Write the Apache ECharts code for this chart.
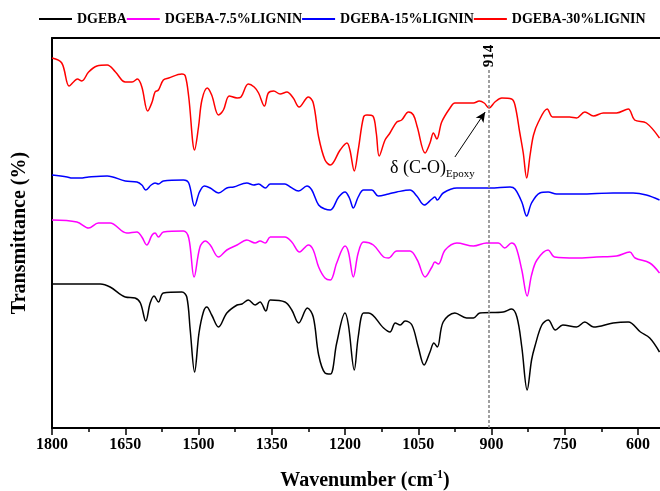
<!DOCTYPE html>
<html><head><meta charset="utf-8">
<script src="https://cdn.jsdelivr.net/npm/echarts@6/dist/echarts.min.js"></script>
<style>html,body{margin:0;padding:0;background:#fff}#c{width:660px;height:491px}</style>
</head><body><div id="c"></div>
<script>
const seriesNames = ['DGEBA', 'DGEBA-7.5%LIGNIN', 'DGEBA-15%LIGNIN', 'DGEBA-30%LIGNIN'];
const seriesColors = ['#000000', '#ff00ff', '#0000ff', '#ff0000'];

const wnBlack = [1800,1701,1681,1650,1630,1619,1608,1599,1591,1582,1572,1534,1524,1517,1508,1499,1490,1483,1473,1459,1442,1421,1411,1398,1384,1374,1362,1353,1323,1309,1295,1277,1265,1254,1241,1230,1217,1200,1193,1181,1173,1162,1152,1121,1108,1097,1087,1077,1063,1050,1038,1026,1018,1011,999,975,951,937,924,876,859,848,838,827,818,811,797,784,769,754,726,709,691,651,620,595,576,556];
const tBlack = [144,144,141,131,130,125,107,125,132,126,135,136,131,98,56,95,116,121,113,101,115,123,124,128,123,126,117,128,126,118,105,120,111,73,55,54,85,115,103,58,91,115,115,100,96,105,103,107,103,81,63,76,85,81,106,115,110,110,115,116,119,111,81,38,68,82,103,108,98,103,101,106,101,105,106,96,90,76];

const wnMagenta = [1800,1749,1725,1705,1681,1647,1626,1616,1606,1595,1589,1582,1572,1531,1520,1509,1497,1486,1476,1459,1442,1421,1401,1384,1374,1363,1353,1323,1309,1293,1275,1265,1254,1241,1230,1217,1200,1193,1183,1173,1162,1142,1121,1111,1094,1067,1052,1036,1022,1016,1009,995,971,937,910,886,873,859,850,838,827,818,807,784,771,726,685,644,617,606,576,556];
const tMagenta = [208,206,200,205,205,195,196,191,183,193,195,191,196,197,190,151,181,187,183,171,178,183,188,185,187,185,191,191,186,176,183,178,161,150,148,165,182,176,151,175,186,183,171,170,177,177,168,151,161,166,164,178,185,182,185,185,180,185,181,158,132,153,168,178,171,170,171,172,176,170,165,155];

const wnBlue = [1800,1769,1759,1742,1725,1687,1650,1626,1616,1608,1597,1589,1582,1572,1531,1520,1508,1498,1488,1476,1459,1442,1428,1401,1387,1377,1363,1353,1323,1312,1295,1278,1268,1254,1241,1230,1213,1200,1191,1183,1173,1162,1145,1132,1111,1094,1067,1053,1038,1022,1016,1011,999,971,937,903,862,852,838,828,818,801,784,767,719,651,610,583,556];
const tBlue = [253,251,250,250,251,252,247,246,243,238,243,245,244,247,248,245,222,236,242,240,235,240,241,245,243,244,240,244,244,241,237,242,238,223,219,218,231,236,230,220,231,238,238,232,234,236,238,232,223,229,231,228,235,240,240,240,241,239,226,212,225,235,236,234,234,235,235,233,228];

const wnRed = [1800,1780,1765,1756,1748,1739,1725,1708,1687,1670,1650,1636,1625,1616,1604,1595,1589,1582,1572,1561,1534,1527,1520,1508,1500,1493,1482,1473,1459,1449,1437,1421,1413,1398,1386,1377,1365,1357,1346,1333,1319,1306,1294,1275,1265,1254,1241,1230,1210,1196,1190,1181,1173,1162,1155,1143,1136,1130,1118,1108,1094,1084,1070,1060,1052,1036,1026,1019,1012,1002,985,975,958,937,925,915,905,893,879,859,852,842,835,828,821,814,804,786,775,760,740,726,709,691,671,644,620,607,583,556];
const tRed = [370,365,342,346,349,347,356,362,363,356,346,346,349,341,317,326,336,338,348,350,354,352,331,278,301,328,340,333,313,318,332,330,331,344,341,335,322,335,337,334,336,330,321,331,325,291,268,263,278,285,278,257,278,311,313,312,295,272,288,295,306,308,316,313,301,275,285,295,289,306,320,325,325,325,327,325,320,326,330,329,323,295,275,250,273,293,306,319,311,311,311,310,316,312,315,315,319,308,305,290];

const majorTicks = [1800,1650,1500,1350,1200,1050,900,750,600];
const minorTicks = [1725,1575,1425,1275,1125,975,825,675];
const peakLabel = '914';
const peakPos = 905;

const FONT = 'Liberation Serif';
const zip = (a, b) => a.map((v, i) => [v, b[i]]);
const dataSets = [zip(wnBlack, tBlack), zip(wnMagenta, tMagenta), zip(wnBlue, tBlue), zip(wnRed, tRed)];

const chart = echarts.init(document.getElementById('c'), null, {renderer: 'canvas'});
const series = dataSets.map((d, i) => ({
  name: seriesNames[i], type: 'line', data: d, symbol: 'none', smooth: 0.35,
  lineStyle: {color: seriesColors[i], width: 1.5}, itemStyle: {color: seriesColors[i]},
  animation: false
}));
series[3].markLine = {
  silent: true, animation: false,
  symbol: ['none', 'none'],
  label: {show: false},
  data: [
    [{coord: [peakPos, 0], lineStyle: {color: '#808080', type: [3, 2], width: 1.5}}, {coord: [peakPos, 358]}],
    [{coord: [975, 271], symbol: 'none', lineStyle: {color: '#000', type: 'solid', width: 1}},
     {coord: [913, 316], symbol: 'arrow', symbolSize: [7, 10]}]
  ]
};
series[3].markPoint = {
  silent: true, animation: false, symbol: 'circle', symbolSize: 0,
  data: [
    {coord: [peakPos, 372], label: {show: true, position: 'inside', rotate: 90, formatter: peakLabel,
      fontFamily: FONT, fontWeight: 'bold', fontSize: 15, color: '#000'}},
    {coord: [1108, 260], label: {show: true, position: 'right', distance: 0,
      formatter: '{a|δ (C-O)}{b|Epoxy}',
      rich: {a: {fontFamily: FONT, fontSize: 18, lineHeight: 24, color: '#000'},
             b: {fontFamily: FONT, fontSize: 11, lineHeight: 11, verticalAlign: 'bottom', color: '#000'}}}}
  ]
};

chart.setOption({
  animation: false,
  backgroundColor: '#fff',
  legend: {
    data: seriesNames, left: 39, top: 12, padding: 0, icon: 'rect', itemWidth: 33, itemHeight: 2, itemGap: 0,
    textStyle: {fontFamily: FONT, fontWeight: 'bold', fontSize: 14, color: '#000'}
  },
  grid: {left: 52, right: 0, top: 38, bottom: 63, containLabel: false, outerBoundsMode: 'none'},
  xAxis: [
    {
      type: 'value', min: 555, max: 1800, inverse: true, position: 'bottom',
      name: '{a|Wavenumber (cm}{s|-1}{a|)}', nameLocation: 'middle', nameGap: 41,
      nameTextStyle: {padding: [0, 0, 0, 18], rich: {
        a: {fontFamily: FONT, fontWeight: 'bold', fontSize: 20, lineHeight: 24, color: '#000'},
        s: {fontFamily: FONT, fontWeight: 'bold', fontSize: 12, verticalAlign: 'top', lineHeight: 12, color: '#000'}}},
      axisLine: {show: true, lineStyle: {color: '#000', width: 2}},
      axisTick: {show: true, length: 7, inside: false, customValues: majorTicks, lineStyle: {color: '#000', width: 1.5}},
      axisLabel: {show: true, customValues: majorTicks, margin: 9, formatter: v => String(v),
        fontFamily: FONT, fontWeight: 'bold', fontSize: 16, color: '#000'},
      splitLine: {show: false}
    },
    {
      type: 'value', min: 555, max: 1800, inverse: true, position: 'bottom', gridIndex: 0,
      axisLine: {show: false},
      axisTick: {show: true, length: 4, customValues: minorTicks, lineStyle: {color: '#000', width: 1.5}},
      axisLabel: {show: false}, splitLine: {show: false}
    },
    {
      type: 'value', min: 555, max: 1800, inverse: true, position: 'top', gridIndex: 0,
      axisLine: {show: true, lineStyle: {color: '#000', width: 2}},
      axisTick: {show: false}, axisLabel: {show: false}, splitLine: {show: false}
    }
  ],
  yAxis: {
    type: 'value', min: 0, max: 390,
    name: 'Transmittance (%)', nameLocation: 'middle', nameGap: 22,
    nameTextStyle: {fontFamily: FONT, fontWeight: 'bold', fontSize: 20, color: '#000'},
    axisLine: {show: true, lineStyle: {color: '#000', width: 2}},
    axisTick: {show: false}, axisLabel: {show: false}, splitLine: {show: false}
  },
  series: series
});
</script></body></html>
